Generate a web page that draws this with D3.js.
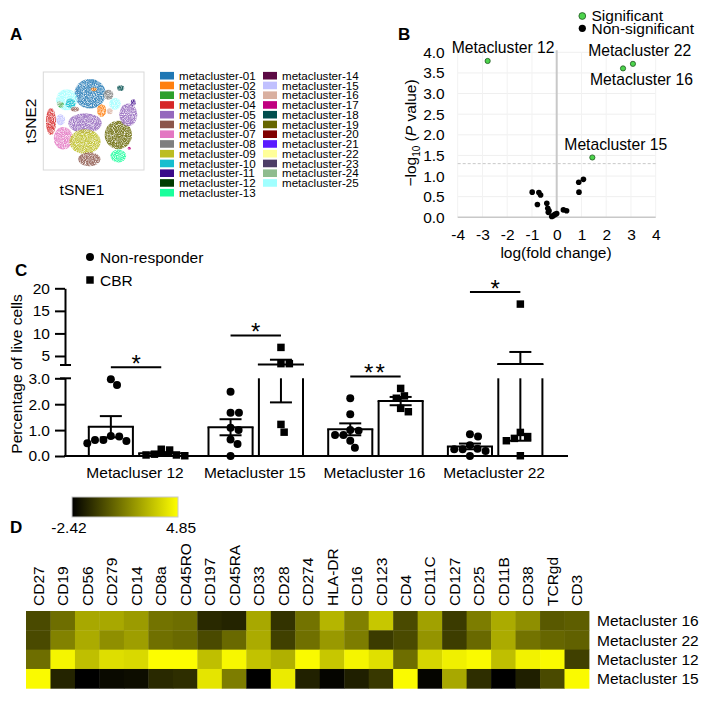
<!DOCTYPE html>
<html><head><meta charset="utf-8">
<script src="https://cdn.jsdelivr.net/npm/d3@7"></script>
<style>
body{margin:0;background:#fff}
svg{display:block}
text{font-family:"Liberation Sans",Arial,Helvetica,sans-serif;fill:#000}
</style>
</head><body>
<svg id="c" width="717" height="701"></svg>
<script>
// ================= DATA =================
// Panel A – legend
const clusterNames = d3.range(1, 26).map(i => "metacluster-" + String(i).padStart(2, "0"));
const clusterColors = ["#1f77b4","#ff7f0e","#2ca02c","#d62728","#9467bd","#8c564b","#e377c2","#7f7f7f",
  "#bcbd22","#17becf","#3b0a8a","#003b00","#1aff9c","#5c0a45","#c0c0ff","#d9b0a0","#c0007f","#004d4d",
  "#666600","#800000","#5a1aff","#ffff99","#4d3d66","#8fbc8f","#a0ffff"];
// Panel A – tSNE cluster clouds (cluster number, centre and spread in tSNE units 0-100)
const tsneBlobCluster = [1, 25, 10, 4, 15, 7, 5, 9, 6, 19, 5, 2, 8, 25, 13, 3, 18, 11, 17, 6, 2, 24, 16];
const tsneBlobX  = [46.4, 23.2, 27, 7.6, 17.2, 19.9, 41.4, 41.4, 45.7, 74.5, 84.4, 57.9, 64.6, 71.2, 74.5, 17.5, 76.8, 89.4, 85.4, 31.5, 50.3, 15.9, 66];
const tsneBlobY  = [77.8, 71.7, 68, 49.5, 51.2, 32.4, 47.8, 29, 10.9, 35.8, 56.3, 60.8, 76.8, 67.6, 14.3, 66.6, 83.6, 68.9, 22.2, 62.1, 82.3, 67.6, 60];
const tsneBlobSX = [15.5, 10.5, 5, 5, 4.5, 9.5, 16.5, 15.5, 11, 13.5, 9, 4.5, 5, 5.8, 7.8, 2.8, 3.5, 2.5, 1.6, 4, 3, 2.5, 3];
const tsneBlobSY = [15, 10.8, 5, 13.8, 5.6, 11.5, 10.2, 12.5, 7.2, 14.5, 11.5, 6.6, 5.2, 6, 6.6, 2.9, 2.9, 3.2, 1.6, 2.5, 2, 2.5, 3];

// Panel B – volcano plot
const sigNames = ["Metacluster 12", "Metacluster 22", "Metacluster 16", "Metacluster 15"];
const sigLogFC = [-2.79, 3.08, 2.68, 1.44];
const sigLogP  = [3.79, 3.72, 3.61, 1.45];
const nsLogFC = [-0.99, -0.72, -0.65, -0.78, -0.40, -0.36, -0.31, -0.34, -0.20, -0.14, -0.07, 0.00, 0.27, 0.40, 0.89, 1.08, 0.90];
const nsLogP  = [0.61, 0.60, 0.54, 0.31, 0.34, 0.22, 0.16, 0.12, 0.02, 0.04, 0.07, 0.09, 0.18, 0.16, 0.85, 0.92, 0.61];
const volcanoXTicks = [-4, -3, -2, -1, 0, 1, 2, 3, 4];
const volcanoYTicks = [0, 0.5, 1, 1.5, 2, 2.5, 3, 3.5, 4];
const pThreshold = 0.05;

// Panel C – bar chart
const groups = ["Metacluser 12", "Metacluster 15", "Metacluster 16", "Metacluster 22"];
const nrMean  = [1.13, 1.11, 1.03, 0.37];
const nrSem   = [0.41, 0.31, 0.23, 0.11];
const cbrMean = [0.11, 3.12, 2.12, 3.24];
const cbrSem  = [0.04, 1.05, 0.16, 2.65];
const nrPoints = [
  [2.96, 2.74, 0.58, 0.75, 0.62, 0.62, 0.77, 0.49],
  [2.48, 1.67, 1.67, 1.09, 1.00, 0.64, 0.46, 0.00],
  [2.23, 1.61, 1.00, 0.81, 0.81, 0.98, 0.59, 0.32],
  [0.84, 0.75, 0.19, 0.26, 0.26, 0.28, 0.42, 0.00]
];
const cbrPoints = [
  [0.04, 0.26, 0.04, 0.23, 0.01, 0.07],
  [6.9, 3.3, 3.3, 1.22, 0.92],
  [2.61, 2.23, 2.32, 1.71, 1.84],
  [16.5, 0.75, 0.91, 0.59, 0.68, 0.01]
];
const sigStars = ["*", "*", "**", "*"];
const lowerTicks = [0, 1, 2, 3];
const upperTicks = [5, 10, 15, 20];
const axisBreak = 3;

// Panel D – heatmap
const markers = ["CD27","CD19","CD56","CD279","CD14","CD8a","CD45RO","CD197","CD45RA","CD33","CD28","CD274",
  "HLA-DR","CD16","CD123","CD4","CD11C","CD127","CD25","CD11B","CD38","TCRgd","CD3"];
const heatRows = ["Metacluster 16", "Metacluster 22", "Metacluster 12", "Metacluster 15"];
const heatM16 = [-0.31, 0.71, 2.38, 2.38, 2.01, 0.85, 0.71, -1.26, -1.40, 2.38, -0.97, 0.85, 2.74, 1.22, 3.25, -0.31, 2.16, -0.75, 1.14, 2.45, 1.65, 0.12, 0.27];
const heatM22 = [-0.31, 1.29, 2.45, 1.65, 2.09, 0.78, 0.56, -0.31, 0.56, 2.45, -0.60, 0.78, 1.94, 1.14, -0.75, -0.31, 1.80, -0.67, 0.56, 2.45, 0.85, 0.49, 0.34];
const heatM12 = [0.71, 4.56, 3.03, 3.90, 3.76, 4.78, 4.78, 3.03, 4.63, 3.11, 2.60, 4.70, 3.25, 4.56, 3.98, 0.71, 3.69, 4.41, 4.70, 3.03, 4.49, 4.70, -0.60];
const heatM15 = [4.70, -1.40, -2.42, -2.13, -2.06, -1.26, -1.11, 4.12, 1.14, -2.42, 4.27, -1.47, -2.27, -1.55, -0.82, 4.70, -2.27, 2.38, -1.11, -2.42, -1.55, -0.31, 4.70];
const colorMin = -2.42, colorMax = 4.85;

// ================= DRAW =================
const svg = d3.select("#c");
const defs = svg.append("defs");

// panel letters
[["A", 10, 40], ["B", 398, 40], ["C", 15, 276], ["D", 10, 533]].forEach(([t, x, y]) =>
  svg.append("text").attr("x", x).attr("y", y).attr("font-size", 17).attr("font-weight", "bold").text(t));

// ---------- Panel A ----------
const xT = d3.scaleLinear([0, 100], [43.3, 144]);
const yT = d3.scaleLinear([0, 100], [170, 72]);
svg.append("rect").attr("x", xT(0)).attr("y", yT(100)).attr("width", xT(100) - xT(0)).attr("height", yT(0) - yT(100))
  .attr("fill", "#fff").attr("stroke", "#d9d9d9").attr("stroke-width", 1);
const flt = defs.append("filter").attr("id", "speckle").attr("filterUnits", "userSpaceOnUse")
  .attr("x", 40).attr("y", 70).attr("width", 110).attr("height", 105);
flt.append("feTurbulence").attr("type", "fractalNoise").attr("baseFrequency", 1.1).attr("numOctaves", 1).attr("seed", 4).attr("result", "n");
flt.append("feColorMatrix").attr("in", "n").attr("type", "matrix")
  .attr("values", "0 0 0 0 0  0 0 0 0 0  0 0 0 0 0  0 0 0 2.6 -0.55").attr("result", "a");
flt.append("feComposite").attr("in", "SourceGraphic").attr("in2", "a").attr("operator", "in");
const gT = svg.append("g").attr("filter", "url(#speckle)");
gT.selectAll("ellipse").data(tsneBlobCluster.map((c, i) => ({c, x: tsneBlobX[i], y: tsneBlobY[i], sx: tsneBlobSX[i], sy: tsneBlobSY[i]})))
  .join("ellipse")
  .attr("cx", d => xT(d.x)).attr("cy", d => yT(d.y))
  .attr("rx", d => xT(d.sx) - xT(0)).attr("ry", d => yT(0) - yT(d.sy))
  .attr("fill", d => clusterColors[d.c - 1]).attr("fill-opacity", 0.85);
svg.append("text").attr("transform", "translate(36,121) rotate(-90)").attr("text-anchor", "middle")
  .attr("font-size", 15.5).text("tSNE2");
svg.append("text").attr("x", 82).attr("y", 195).attr("text-anchor", "middle").attr("font-size", 15.5).text("tSNE1");

const legRow = d3.scaleLinear([0, 12], [75.7, 192.7]);
const legItems = svg.append("g").selectAll("g").data(clusterNames).join("g")
  .attr("transform", (d, i) => `translate(${i < 13 ? 160 : 263},${legRow(i < 13 ? i : i - 13)})`);
legItems.append("rect").attr("x", 0).attr("y", -3.8).attr("width", 14).attr("height", 7.6)
  .attr("fill", (d, i) => clusterColors[i]);
legItems.append("text").attr("x", 19).attr("dy", "0.36em").attr("font-size", 11.6).text(d => d);

// ---------- Panel B ----------
const xB = d3.scaleLinear([-4, 4], [457.7, 655.7]);
const yB = d3.scaleLinear([0, 4], [217.3, 52.3]);
const gB = svg.append("g");
gB.selectAll(".hg").data(volcanoYTicks.filter(v => v > 0)).join("line")
  .attr("x1", xB(-4)).attr("x2", xB(4)).attr("y1", d => yB(d)).attr("y2", d => yB(d))
  .attr("stroke", "#efefef").attr("stroke-width", 1);
gB.selectAll(".vg").data(volcanoXTicks.filter(v => v !== 0)).join("line")
  .attr("x1", d => xB(d)).attr("x2", d => xB(d)).attr("y1", yB(0)).attr("y2", yB(4))
  .attr("stroke", "#f2f2f2").attr("stroke-width", 1);
gB.append("line").attr("x1", xB(-4)).attr("x2", xB(4)).attr("y1", yB(-Math.log10(pThreshold))).attr("y2", yB(-Math.log10(pThreshold)))
  .attr("stroke", "#c8c8c8").attr("stroke-dasharray", "3,2").attr("stroke-width", 1);
gB.append("line").attr("x1", xB(-4)).attr("x2", xB(4)).attr("y1", yB(0)).attr("y2", yB(0))
  .attr("stroke", "#c8c8c8").attr("stroke-width", 1.5);
gB.append("line").attr("x1", xB(0)).attr("x2", xB(0)).attr("y1", yB(0)).attr("y2", yB(4.05))
  .attr("stroke", "#c8c8c8").attr("stroke-width", 2);
const axBx = gB.append("g").attr("transform", `translate(0,${yB(0)})`)
  .call(d3.axisBottom(xB).tickValues(volcanoXTicks).tickSize(0).tickPadding(12).tickFormat(d => d < 0 ? "-" + Math.abs(d) : d));
axBx.select(".domain").remove();
axBx.selectAll("text").attr("font-size", 15.5).attr("font-family", null);
const axBy = gB.append("g").attr("transform", `translate(${xB(-4)},0)`)
  .call(d3.axisLeft(yB).tickValues(volcanoYTicks).tickSize(0).tickPadding(13).tickFormat(d3.format(".1f")));
axBy.select(".domain").remove();
axBy.selectAll("text").attr("font-size", 15.5).attr("font-family", null);
gB.selectAll(".ns").data(nsLogFC.map((x, i) => [x, nsLogP[i]])).join("circle")
  .attr("cx", d => xB(d[0])).attr("cy", d => yB(d[1])).attr("r", 2.8).attr("fill", "#000");
gB.selectAll(".sg").data(sigLogFC.map((x, i) => [x, sigLogP[i], sigNames[i]])).join("circle")
  .attr("cx", d => xB(d[0])).attr("cy", d => yB(d[1])).attr("r", 2.6).attr("fill", "#4cd44c").attr("stroke", "#225522").attr("stroke-width", 0.8);
const sigLabelOffset = [[-36, -7.7], [-44.7, -7.7], [-33, 16.7], [-28, -7.3]];
gB.selectAll(".sl").data(sigLogFC.map((x, i) => [x, sigLogP[i], sigNames[i], i])).join("text")
  .attr("x", d => xB(d[0]) + sigLabelOffset[d[3]][0]).attr("y", d => yB(d[1]) + sigLabelOffset[d[3]][1])
  .attr("font-size", 15.7).text(d => d[2]);
gB.append("text").attr("x", 556).attr("y", 258).attr("text-anchor", "middle").attr("font-size", 15.5).text("log(fold change)");
const yLab = gB.append("text").attr("transform", "translate(416,133) rotate(-90)").attr("text-anchor", "middle").attr("font-size", 15.5);
yLab.append("tspan").text("\u2212log");
yLab.append("tspan").attr("font-size", 10).attr("dy", 4).text("10");
yLab.append("tspan").attr("dy", -4).text(" (");
yLab.append("tspan").attr("font-style", "italic").text("P");
yLab.append("tspan").text(" value)");
// legend B
gB.append("circle").attr("cx", 582.3).attr("cy", 16).attr("r", 3.4).attr("fill", "#4cd44c").attr("stroke", "#225522").attr("stroke-width", 0.8);
gB.append("text").attr("x", 591.5).attr("y", 21).attr("font-size", 15.5).text("Significant");
gB.append("circle").attr("cx", 582.3).attr("cy", 28.3).attr("r", 3.6).attr("fill", "#000");
gB.append("text").attr("x", 591.5).attr("y", 33.5).attr("font-size", 15.5).text("Non-significant");

// ---------- Panel C ----------
const yLow = d3.scaleLinear([0, axisBreak], [456, 378.3]);
const yUp = d3.scaleLinear([axisBreak, 20], [365, 288.3]);
const yC = v => v <= axisBreak ? yLow(v) : yUp(v);
function ySegs(a, b) {
  const lo = Math.min(a, b), hi = Math.max(a, b), s = [];
  if (lo < axisBreak) s.push([yLow(lo), yLow(Math.min(hi, axisBreak))]);
  if (hi > axisBreak) s.push([yUp(Math.max(lo, axisBreak)), yUp(hi)]);
  return s;
}
const axisX = 65;
const xG = d3.scaleBand(groups, [76.2, 555]);
const xS = d3.scaleBand(["NR", "CBR"], [0, xG.bandwidth()]).paddingInner(0.125).paddingOuter(0.25);
const gC = svg.append("g");
const SW = 2;

function styleAxis(g) {
  g.select(".domain").attr("stroke-width", SW);
  g.selectAll(".tick line").attr("stroke-width", SW);
  g.selectAll("text").attr("font-size", 15.5).attr("font-family", null);
}
gC.append("g").attr("transform", `translate(${axisX},0)`)
  .call(d3.axisLeft(yLow).tickValues(lowerTicks).tickSize(10).tickPadding(5).tickSizeOuter(0)).call(styleAxis);
gC.append("g").attr("transform", `translate(${axisX},0)`)
  .call(d3.axisLeft(yUp).tickValues(upperTicks).tickSize(10).tickPadding(5).tickSizeOuter(0)).call(styleAxis);
[yUp(axisBreak), yLow(axisBreak)].forEach(y =>
  gC.append("line").attr("x1", axisX - 5).attr("x2", axisX + 6).attr("y1", y).attr("y2", y).attr("stroke", "#000").attr("stroke-width", SW));
gC.append("line").attr("x1", axisX - 1).attr("x2", 568).attr("y1", yLow(0)).attr("y2", yLow(0)).attr("stroke", "#000").attr("stroke-width", SW);

const gapLine = (g, x1, x2, y1, y2, w) => g.append("line").attr("x1", x1).attr("x2", x2).attr("y1", y1).attr("y2", y2)
  .attr("stroke", "#000").attr("stroke-width", w || SW);

function swarm(values, cx, D) {
  const pts = values.map(v => ({v, y: yC(v)})).sort((a, b) => a.y - b.y);
  const placed = [];
  for (const p of pts) {
    const cands = [0];
    for (const q of placed) {
      const dy = p.y - q.y;
      if (Math.abs(dy) < D) { const dx = Math.sqrt(D * D - dy * dy); cands.push(q.x + dx, q.x - dx); }
    }
    cands.sort((a, b) => Math.abs(a) - Math.abs(b));
    for (const c of cands) {
      if (placed.every(q => (q.x - c) ** 2 + (q.y - p.y) ** 2 >= D * D - 0.01)) { p.x = c; break; }
    }
    placed.push(p);
  }
  return placed.map(p => ({v: p.v, x: cx + p.x, y: p.y}));
}

groups.forEach((grp, gi) => {
  const series = [
    {key: "NR", mean: nrMean[gi], sem: nrSem[gi], pts: nrPoints[gi], shape: d3.symbolCircle, size: 50},
    {key: "CBR", mean: cbrMean[gi], sem: cbrSem[gi], pts: cbrPoints[gi], shape: d3.symbolSquare, size: 56}
  ];
  const centers = [];
  let topY = Infinity;
  series.forEach(s => {
    const x0 = xG(grp) + xS(s.key), x1 = x0 + xS.bandwidth(), cx = (x0 + x1) / 2;
    centers.push(cx);
    ySegs(0, s.mean).forEach(([ya, yb]) => { gapLine(gC, x0, x0, ya, yb); gapLine(gC, x1, x1, ya, yb); });
    gapLine(gC, x0 - 1, x1 + 1, yC(s.mean), yC(s.mean));
    ySegs(s.mean - s.sem, s.mean + s.sem).forEach(([ya, yb]) => gapLine(gC, cx, cx, ya, yb));
    [s.mean - s.sem, s.mean + s.sem].forEach(v => gapLine(gC, cx - 11, cx + 11, yC(v), yC(v)));
    topY = Math.min(topY, yC(s.mean + s.sem));
    const sw = swarm(s.pts, cx, 8.4);
    gC.selectAll(null).data(sw).join("path")
      .attr("d", d3.symbol().type(s.shape).size(s.size))
      .attr("transform", d => `translate(${d.x},${d.y})`).attr("fill", "#000");
    sw.forEach(d => topY = Math.min(topY, d.y));
  });
  const ly = topY - 12;
  gapLine(gC, centers[0], centers[1], ly, ly);
  gC.append("text").attr("x", (centers[0] + centers[1]) / 2).attr("y", ly + 5).attr("text-anchor", "middle")
    .attr("font-size", 24).attr("letter-spacing", sigStars[gi].length > 1 ? 2 : 0).text(sigStars[gi]);
  gC.append("text").attr("x", xG(grp) + xG.bandwidth() / 2 - 1).attr("y", 477.5).attr("text-anchor", "middle")
    .attr("font-size", 15.5).text(grp);
});
gC.append("text").attr("transform", "translate(22,374) rotate(-90)").attr("text-anchor", "middle")
  .attr("font-size", 15.5).text("Percentage of live cells");
gC.append("path").attr("d", d3.symbol().type(d3.symbolCircle).size(50)).attr("transform", "translate(90,257)");
gC.append("text").attr("x", 100).attr("y", 262.5).attr("font-size", 15.5).text("Non-responder");
gC.append("path").attr("d", d3.symbol().type(d3.symbolSquare).size(56)).attr("transform", "translate(90,280)");
gC.append("text").attr("x", 100).attr("y", 285.5).attr("font-size", 15.5).text("CBR");

// ---------- Panel D ----------
const color = d3.scaleLinear([colorMin, colorMax], ["#000000", "#ffff00"]);
const grad = defs.append("linearGradient").attr("id", "cbar");
grad.selectAll("stop").data([colorMin, colorMax]).join("stop")
  .attr("offset", (d, i) => i * 100 + "%").attr("stop-color", d => color(d));
const xCb = d3.scaleLinear([colorMin, colorMax], [72, 178]);
svg.append("rect").attr("x", xCb(colorMin)).attr("y", 497).attr("width", xCb(colorMax) - xCb(colorMin)).attr("height", 20)
  .attr("fill", "url(#cbar)").attr("stroke", "#c8c8c8").attr("stroke-width", 1);
[colorMin, colorMax].forEach(v => svg.append("text").attr("x", xCb(v) - 3 * (v < 0 ? 1 : -1)).attr("y", 533)
  .attr("text-anchor", "middle").attr("font-size", 15.5).text(v.toFixed(2)));

const xH = d3.scaleBand(markers, [26, 589]);
const yH = d3.scaleBand(heatRows, [611, 688.3]);
const heatData = [heatM16, heatM22, heatM12, heatM15];
const cells = [];
heatRows.forEach((r, ri) => markers.forEach((m, mi) => cells.push({r, m, v: heatData[ri][mi]})));
svg.append("g").selectAll("rect").data(cells).join("rect")
  .attr("x", d => xH(d.m)).attr("y", d => yH(d.r)).attr("width", xH.bandwidth() + 0.4).attr("height", yH.bandwidth() + 0.4)
  .attr("fill", d => color(d.v));
svg.append("g").selectAll("text").data(markers).join("text")
  .attr("transform", d => `translate(${xH(d) + xH.bandwidth() / 2},606) rotate(-90)`)
  .attr("dy", "0.36em").attr("font-size", 15.5).text(d => d);
svg.append("g").selectAll("text").data(heatRows).join("text")
  .attr("x", 597).attr("y", d => yH(d) + yH.bandwidth() / 2).attr("dy", "0.36em").attr("font-size", 15.5).text(d => d);
</script>
</body></html>
